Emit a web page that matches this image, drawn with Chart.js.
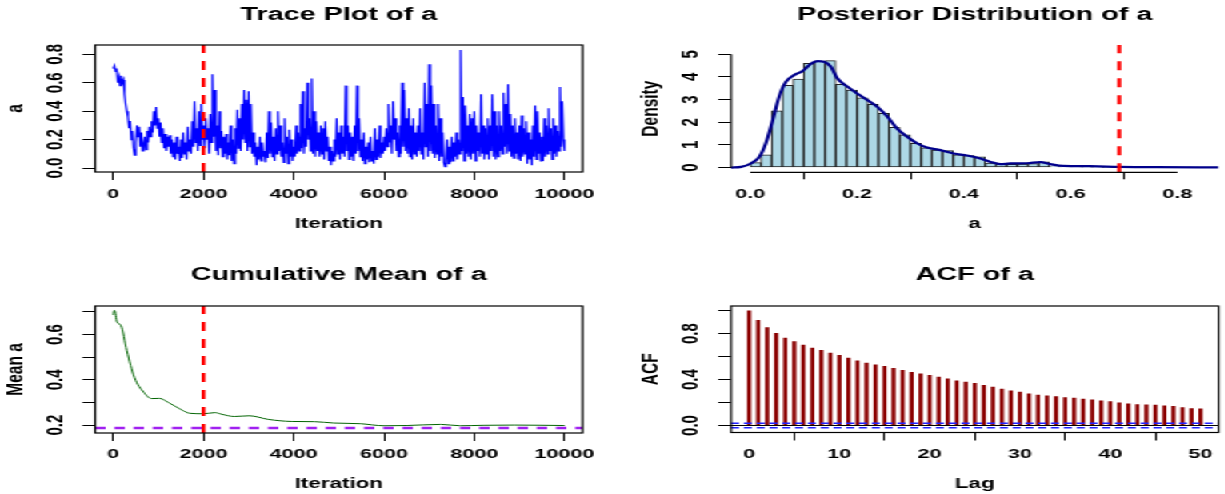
<!DOCTYPE html>
<html><head><meta charset="utf-8">
<script src="https://cdn.jsdelivr.net/npm/chart.js@4.4.1/dist/chart.umd.min.js"></script>
<style>
html,body{margin:0;padding:0;background:#fff;width:1225px;height:494px;overflow:hidden}
#wrap{position:absolute;left:0;top:0;width:766px;height:494px;transform:scaleX(1.6);transform-origin:0 0}
canvas{position:absolute}
</style></head><body>
<div id="wrap">
<canvas id="c1" width="383" height="247" style="left:0;top:0"></canvas>
<canvas id="c2" width="383" height="247" style="left:383px;top:0"></canvas>
<canvas id="c3" width="383" height="247" style="left:0;top:247px"></canvas>
<canvas id="c4" width="383" height="247" style="left:383px;top:247px"></canvas>
</div>
<script>
// ---------- data ----------
const TRACE_STEP = 25;
const traceValues = [
0.70,0.72,0.68,0.70,0.60,0.64,0.58,0.65,0.60,0.62,0.52,0.45,0.40,0.36,0.28,0.33,0.20,0.26,0.14,0.09,
0.18,0.30,0.22,0.29,0.15,0.25,0.12,0.16,0.22,0.13,0.26,0.18,0.29,0.22,0.33,0.25,0.40,0.30,0.43,0.28,
0.35,0.22,0.32,0.18,0.28,0.14,0.24,0.12,0.22,0.15,0.23,0.10,0.20,0.08,0.18,0.06,0.22,0.10,0.15,0.05,
0.20,0.07,0.25,0.10,0.18,0.06,0.29,0.12,0.20,0.10,0.33,0.15,0.47,0.18,0.28,0.12,0.40,0.16,0.45,0.20,
0.30,0.14,0.35,0.20,0.28,0.10,0.38,0.18,0.66,0.22,0.55,0.12,0.30,0.09,0.40,0.14,0.26,0.08,0.22,0.10,
0.24,0.06,0.18,0.09,0.30,0.05,0.20,0.03,0.28,0.10,0.41,0.14,0.35,0.12,0.45,0.20,0.55,0.18,0.48,0.12,
0.54,0.15,0.45,0.10,0.25,0.08,0.18,0.02,0.15,0.06,0.22,0.05,0.18,0.08,0.12,0.04,0.25,0.07,0.40,0.10,
0.32,0.08,0.22,0.05,0.28,0.10,0.40,0.12,0.30,0.08,0.18,0.04,0.35,0.10,0.22,0.03,0.27,0.08,0.20,0.05,
0.15,0.08,0.30,0.10,0.25,0.12,0.45,0.14,0.54,0.10,0.28,0.15,0.60,0.20,0.35,0.12,0.63,0.10,0.40,0.08,
0.33,0.12,0.25,0.08,0.30,0.10,0.28,0.06,0.33,0.12,0.22,0.05,0.15,0.02,0.12,0.05,0.20,0.08,0.35,0.10,
0.25,0.06,0.30,0.10,0.22,0.08,0.58,0.12,0.30,0.06,0.25,0.08,0.22,0.05,0.30,0.10,0.58,0.12,0.35,0.08,
0.20,0.05,0.25,0.03,0.15,0.06,0.18,0.04,0.22,0.05,0.12,0.03,0.28,0.06,0.20,0.08,0.30,0.07,0.18,0.10,
0.22,0.12,0.28,0.15,0.45,0.18,0.30,0.10,0.47,0.20,0.35,0.12,0.25,0.08,0.30,0.10,0.60,0.15,0.55,0.12,
0.35,0.10,0.42,0.08,0.30,0.06,0.35,0.10,0.25,0.08,0.30,0.12,0.42,0.10,0.25,0.06,0.60,0.15,0.45,0.08,
0.73,0.12,0.58,0.10,0.45,0.07,0.30,0.10,0.45,0.05,0.35,0.08,0.25,0.04,0.01,0.06,0.20,0.03,0.15,0.04,
0.22,0.05,0.18,0.08,0.25,0.06,0.20,0.10,0.83,0.12,0.50,0.05,0.44,0.10,0.30,0.08,0.38,0.06,0.35,0.10,
0.40,0.05,0.30,0.12,0.25,0.08,0.52,0.10,0.30,0.06,0.28,0.10,0.35,0.06,0.30,0.12,0.52,0.08,0.40,0.06,
0.30,0.08,0.40,0.12,0.30,0.10,0.53,0.15,0.45,0.10,0.59,0.12,0.38,0.08,0.30,0.07,0.35,0.10,0.25,0.06,
0.30,0.05,0.37,0.08,0.28,0.10,0.33,0.03,0.25,0.06,0.20,0.02,0.30,0.08,0.44,0.06,0.40,0.10,0.25,0.05,
0.22,0.05,0.35,0.08,0.30,0.10,0.42,0.12,0.28,0.06,0.35,0.10,0.30,0.08,0.26,0.12,0.57,0.15,0.47,0.20,
0.12];
const burnIn = 2000;
const iterTicks = [0,2000,4000,6000,8000,10000];
const iterTickLabels = ['0','2000','4000','6000','8000','10000'];
const traceYTicks = [0,0.2,0.4,0.6,0.8];
const traceYLabels = ['0.0','0.2','0.4','0.6','0.8'];

const histBinStarts = [0.00,0.02,0.04,0.06,0.08,0.10,0.12,0.14,0.16,0.18,0.20,0.22,0.24,0.26,0.28,0.30,0.32,0.34,0.36,0.38,0.40,0.42,0.44,0.46,0.48,0.50,0.52,0.54,0.56,0.58,0.60,0.62,0.64,0.66,0.68,0.70,0.72,0.74,0.76,0.78,0.80,0.82];
const histDensity   = [0.22,0.56,2.50,3.63,3.91,4.60,4.69,4.72,3.67,3.42,3.08,2.79,2.39,1.77,1.44,1.07,0.87,0.77,0.75,0.56,0.53,0.47,0.20,0.15,0.14,0.15,0.17,0.25,0.04,0.03,0.03,0.02,0.02,0.01,0.01,0.01,0.01,0.01,0.00,0.01,0.00,0.01];
const densX = [-0.036,-0.017,0.001,0.017,0.029,0.042,0.054,0.067,0.082,0.098,0.113,0.126,0.138,0.151,0.163,0.182,0.200,0.219,0.238,0.257,0.275,0.294,0.313,0.331,0.356,0.381,0.406,0.431,0.450,0.468,0.487,0.518,0.543,0.562,0.586,0.636,0.691,0.761,0.877];
const densY = [0.00,0.03,0.18,0.47,1.06,2.09,3.12,3.79,4.08,4.26,4.57,4.70,4.67,4.45,3.94,3.57,3.27,2.98,2.68,2.24,1.72,1.36,1.06,0.88,0.77,0.62,0.53,0.40,0.25,0.15,0.18,0.19,0.24,0.15,0.07,0.06,0.03,0.015,0.01];
const trueValue = 0.691;
const histXTicks = [0,0.2,0.4,0.6,0.8];
const histXLabels = ['0.0','0.2','0.4','0.6','0.8'];
const histYTicks = [0,1,2,3,4,5];
const histYLabels = ['0','1','2','3','4','5'];

const cumIter = [0,25,85,170,300,470,680,850,1020,1230,1490,1700,2000,2250,2420,2680,3020,3440,3950,4460,4890,5480,6000,6500,7260,7690,8200,8880,10000];
const cumMean = [0.687,0.707,0.655,0.640,0.529,0.410,0.344,0.317,0.318,0.299,0.270,0.252,0.250,0.255,0.247,0.238,0.241,0.225,0.216,0.215,0.209,0.206,0.197,0.198,0.203,0.197,0.199,0.200,0.198];
const refMean = 0.187;
const cumYTicks = [0.2,0.3,0.4,0.5,0.6,0.7];
const cumYLabelValues = [0.2,0.4,0.6];
const cumYLabels = ['0.2','0.4','0.6'];

const acfLags = [0,1,2,3,4,5,6,7,8,9,10,11,12,13,14,15,16,17,18,19,20,21,22,23,24,25,26,27,28,29,30,31,32,33,34,35,36,37,38,39,40,41,42,43,44,45,46,47,48,49,50];
const acfValues = [1.000,0.916,0.852,0.803,0.762,0.730,0.701,0.675,0.655,0.631,0.611,0.588,0.564,0.544,0.529,0.515,0.497,0.480,0.463,0.451,0.436,0.422,0.407,0.390,0.378,0.367,0.349,0.335,0.317,0.303,0.291,0.276,0.265,0.259,0.253,0.244,0.239,0.230,0.224,0.215,0.209,0.198,0.189,0.183,0.180,0.177,0.172,0.166,0.157,0.148,0.145];
const acfConf = 0.0196;
const acfXTicks = [0,10,20,30,40,50];
const acfXLabels = ['0','10','20','30','40','50'];
const acfYTicks = [0,0.2,0.4,0.6,0.8,1.0];
const acfYLabelValues = [0,0.4,0.8];
const acfYLabels = ['0.0','0.4','0.8'];

// ---------- helpers ----------
const FAM = "'Liberation Sans', Arial, sans-serif";
const TITLE_SIZE = 18, YTICK_SIZE = 15, YTITLE_SIZE = 15.5, XTICK_SIZE = 13.5, XTITLE_SIZE = 14;
Chart.defaults.color = '#000';
Chart.defaults.font.family = FAM;

const rAxes = {
  id: 'rAxes',
  afterDraw(chart, args, o) {
    const {ctx, chartArea: a, scales: {x, y}} = chart;
    ctx.save();
    ctx.strokeStyle = '#000';
    ctx.lineWidth = 1.2;
    if (o.box) ctx.strokeRect(a.left, a.top, a.right - a.left, a.bottom - a.top);
    if (o.xLine) {
      ctx.beginPath();
      ctx.moveTo(x.getPixelForValue(o.xLine[0]), a.bottom);
      ctx.lineTo(x.getPixelForValue(o.xLine[1]), a.bottom);
      ctx.stroke();
    }
    if (o.yLine) {
      ctx.beginPath();
      ctx.moveTo(a.left, y.getPixelForValue(o.yLine[0]));
      ctx.lineTo(a.left, y.getPixelForValue(o.yLine[1]));
      ctx.stroke();
    }
    ctx.fillStyle = '#000';
    ctx.font = 'bold ' + YTICK_SIZE + 'px ' + FAM;
    ctx.textAlign = 'center';
    ctx.textBaseline = 'middle';
    o.yLabelValues.forEach((v, i) => {
      ctx.save();
      ctx.translate(a.left - 25, y.getPixelForValue(v));
      ctx.rotate(-Math.PI / 2);
      ctx.fillText(o.yLabels[i], 0, 0);
      ctx.restore();
    });
    ctx.restore();
  }
};

function opts(c) {
  const tlh = TITLE_SIZE * 1.2, ylh = YTITLE_SIZE * 1.2;
  return {
    responsive: false, animation: false, devicePixelRatio: 1,
    events: [],
    layout: {padding: {left: 0, top: 0, bottom: 0, right: 383 - c.areaRight}},
    plugins: {
      legend: {display: false}, tooltip: {enabled: false},
      title: {display: true, fullSize: false, text: c.title, font: {size: TITLE_SIZE, weight: 'bold', family: FAM}, color: '#000',
              padding: {top: c.titleMid - tlh / 2, bottom: c.areaTop - c.titleMid - tlh / 2}},
      rAxes: {box: c.box, xLine: c.xLine, yLine: c.yLine, yLabelValues: c.yLabelValues, yLabels: c.yLabels}
    },
    scales: {
      x: {
        type: 'linear', min: c.xMin, max: c.xMax, offset: false,
        afterBuildTicks: s => { s.ticks = c.xTicks.map(v => ({value: v})); },
        afterFit: s => { s.height = 247 - c.areaBottom; },
        grid: {drawOnChartArea: false, drawTicks: true, tickLength: c.xTickLen || 8, color: '#000', lineWidth: 1},
        border: {display: false},
        ticks: {autoSkip: false, maxRotation: 0, padding: c.xTickPad, font: {size: XTICK_SIZE, weight: 'bold', family: FAM}, color: '#000',
                callback: (v, i) => c.xLabels[i]},
        title: {display: true, text: c.xTitle, font: {size: XTITLE_SIZE, weight: 'bold', family: FAM}, color: '#000',
                padding: {top: 0, bottom: c.xTitlePad}}
      },
      y: {
        type: 'linear', min: c.yMin, max: c.yMax,
        afterBuildTicks: s => { s.ticks = c.yTicks.map(v => ({value: v})); },
        afterFit: s => { s.width = c.areaLeft; },
        grid: {drawOnChartArea: false, drawTicks: true, tickLength: 8, color: '#000', lineWidth: 1},
        border: {display: false},
        ticks: {display: false},
        title: {display: true, text: c.yTitle, font: {size: YTITLE_SIZE, weight: 'bold', family: FAM}, color: '#000',
                padding: {top: Math.max(0, c.yTitleMid - ylh / 2), bottom: 0}}
      }
    }
  };
}
const pts = (xs, ys) => xs.map((x, i) => ({x, y: ys[i]}));

// ---------- 1. Trace ----------
const traceIter = traceValues.map((_, i) => i * TRACE_STEP);
new Chart(document.getElementById('c1'), {
  type: 'line',
  data: {datasets: [
    {data: [{x: burnIn, y: -0.028}, {x: burnIn, y: 0.866}], borderColor: '#ff0000', borderWidth: 2.4, borderDash: [9, 8], pointRadius: 0, order: 0},
    {data: pts(traceIter, traceValues), borderColor: '#0000ff', borderWidth: 1.2, pointRadius: 0, tension: 0, order: 1}
  ]},
  options: opts({title: 'Trace Plot of a', titleMid: 15.5, areaTop: 45, areaBottom: 172, areaLeft: 59.5, areaRight: 364.1,
    xMin: -400, xMax: 10400, xTicks: iterTicks, xLabels: iterTickLabels, xTickPad: 6.4, xTitle: 'Iteration', xTitlePad: 14.1,
    yMin: -0.028, yMax: 0.866, yTicks: traceYTicks, yLabelValues: traceYTicks, yLabels: traceYLabels, yTitle: 'a', yTitleMid: 9.4, box: true}),
  plugins: [rAxes]
});

// ---------- 2. Posterior histogram ----------
new Chart(document.getElementById('c2'), {
  type: 'bar',
  data: {datasets: [
    {type: 'line', data: [{x: trueValue, y: -0.21}, {x: trueValue, y: 5.41}], borderColor: '#ff0000', borderWidth: 2.4, borderDash: [9, 8], pointRadius: 0, order: 0},
    {type: 'line', data: pts(densX, densY), borderColor: '#00008b', borderWidth: 2.2, pointRadius: 0, tension: 0.35, cubicInterpolationMode: 'monotone', order: 1},
    {type: 'bar', data: pts(histBinStarts.map(b => b + 0.01), histDensity), backgroundColor: '#add8e6', borderColor: '#222', borderWidth: 1,
     borderSkipped: false, barPercentage: 1, categoryPercentage: 1, order: 2}
  ]},
  options: opts({title: 'Posterior Distribution of a', titleMid: 15.5, areaTop: 45, areaBottom: 172.3, areaLeft: 73.9, areaRight: 378.6,
    xMin: -0.036, xMax: 0.877, xTicks: histXTicks, xLabels: histXLabels, xTickPad: 6.8, xTickLen: 7, xTitle: 'a', xTitlePad: 14.1,
    yMin: -0.21, yMax: 5.41, yTicks: histYTicks, yLabelValues: histYTicks, yLabels: histYLabels, yTitle: 'Density', yTitleMid: 23.9,
    box: false, xLine: [0, 0.8], yLine: [0, 5]}),
  plugins: [rAxes]
});

// ---------- 3. Cumulative mean ----------
new Chart(document.getElementById('c3'), {
  type: 'line',
  data: {datasets: [
    {data: [{x: burnIn, y: 0.165}, {x: burnIn, y: 0.726}], borderColor: '#ff0000', borderWidth: 2.4, borderDash: [9, 8], pointRadius: 0, order: 0},
    {data: [{x: -400, y: refMean}, {x: 10400, y: refMean}], borderColor: '#a020f0', borderWidth: 2.6, borderDash: [6.5, 5.5], pointRadius: 0, order: 1},
    {data: pts(cumIter, cumMean), borderColor: '#006400', borderWidth: 1, pointRadius: 0, tension: 0.3, cubicInterpolationMode: 'monotone', order: 2}
  ]},
  options: opts({title: 'Cumulative Mean of a', titleMid: 28.5, areaTop: 59, areaBottom: 186, areaLeft: 59.5, areaRight: 364.1,
    xMin: -400, xMax: 10400, xTicks: iterTicks, xLabels: iterTickLabels, xTickPad: 5.2, xTitle: 'Iteration', xTitlePad: 1.6,
    yMin: 0.165, yMax: 0.726, yTicks: cumYTicks, yLabelValues: cumYLabelValues, yLabels: cumYLabels, yTitle: 'Mean a', yTitleMid: 9.4, box: true}),
  plugins: [rAxes]
});

// ---------- 4. ACF ----------
new Chart(document.getElementById('c4'), {
  type: 'bar',
  data: {datasets: [
    {type: 'line', data: [{x: -2, y: acfConf}, {x: 52, y: acfConf}], borderColor: '#2020ff', borderWidth: 1.6, borderDash: [5, 3], pointRadius: 0, order: 0},
    {type: 'line', data: [{x: -2, y: -acfConf}, {x: 52, y: -acfConf}], borderColor: '#2020ff', borderWidth: 1.6, borderDash: [5, 3], pointRadius: 0, order: 0},
    {type: 'line', data: [{x: -2, y: 0}, {x: 52, y: 0}], borderColor: '#000', borderWidth: 1, pointRadius: 0, order: 1},
    {type: 'bar', data: pts(acfLags, acfValues), backgroundColor: '#8b0000', borderWidth: 0, barThickness: 1.9, order: 2}
  ]},
  options: opts({title: 'ACF of a', titleMid: 28.5, areaTop: 59, areaBottom: 185.5, areaLeft: 73.9, areaRight: 378.6,
    xMin: -2, xMax: 52, xTicks: acfXTicks, xLabels: acfXLabels, xTickPad: 5.2, xTitle: 'Lag', xTitlePad: 1.6,
    yMin: -0.061, yMax: 1.041, yTicks: acfYTicks, yLabelValues: acfYLabelValues, yLabels: acfYLabels, yTitle: 'ACF', yTitleMid: 23.9, box: true}),
  plugins: [rAxes]
});
</script>
</body></html>
